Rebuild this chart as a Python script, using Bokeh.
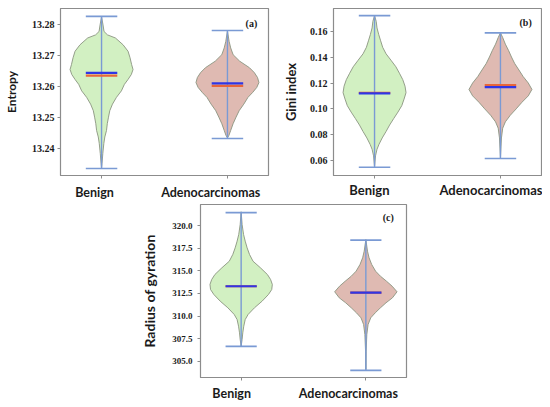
from bokeh.plotting import figure
from bokeh.layouts import row, column
from bokeh.models import Range1d, FixedTicker, Label
from bokeh.embed import file_html
from bokeh.resources import INLINE
import numpy as np

categories = ["Benign", "Adenocarcinomas"]

# ---------------- panel (a): Entropy ----------------
a_ticks = [13.24, 13.25, 13.26, 13.27, 13.28]
a_tick_labels = ["13.24", "13.25", "13.26", "13.27", "13.28"]
a_benign_min, a_benign_max = 13.2336, 13.2828
a_benign_mean, a_benign_median = 13.2645, 13.2636
a_benign_levels = [13.2827, 13.2800, 13.2779, 13.2768, 13.2758, 13.2736, 13.2715, 13.2694,
                   13.2672, 13.2656, 13.2640, 13.2624, 13.2608, 13.2587, 13.2566, 13.2544,
                   13.2523, 13.2502, 13.2481, 13.2459, 13.2438, 13.2417, 13.2385, 13.2353, 13.2337]
a_benign_density = [0, 1.5, 2.5, 6, 14, 21.7, 26.7, 28.7, 30.3, 31.7, 30, 26.7, 23, 20, 15,
                    11, 8.3, 7, 5.8, 5, 3.3, 2.3, 1.3, 0.5, 0]
a_adeno_min, a_adeno_max = 13.2433, 13.2782
a_adeno_mean, a_adeno_median = 13.2611, 13.2603
a_adeno_levels = [13.2781, 13.2747, 13.2726, 13.2704, 13.2683, 13.2662, 13.2646, 13.2630,
                  13.2614, 13.2598, 13.2582, 13.2566, 13.2544, 13.2523, 13.2502, 13.2481,
                  13.2459, 13.2443, 13.2435]
a_adeno_density = [0, 1.7, 3.3, 5.8, 12.5, 22.5, 27.5, 30.8, 32.2, 30, 25.8, 21, 16.7, 12,
                   8.8, 5.8, 3.3, 1.5, 0]

# ---------------- panel (b): Gini index ----------------
b_ticks = [0.06, 0.08, 0.10, 0.12, 0.14, 0.16]
b_tick_labels = ["0.06", "0.08", "0.10", "0.12", "0.14", "0.16"]
b_benign_min, b_benign_max = 0.0547, 0.1726
b_benign_mean, b_benign_median = 0.1121, 0.1125
b_benign_levels = [0.1726, 0.1681, 0.1630, 0.1580, 0.1530, 0.1479, 0.1429, 0.1379, 0.1328,
                   0.1278, 0.1228, 0.1177, 0.1127, 0.1077, 0.1026, 0.0976, 0.0926, 0.0875,
                   0.0825, 0.0775, 0.0725, 0.0687, 0.0636, 0.0549]
b_benign_density = [0, 1.7, 2.5, 4.2, 6.2, 8.3, 11.7, 16.7, 21.7, 25.3, 28.7, 31, 32, 30,
                    27.7, 23.8, 19.5, 15.3, 11.7, 7.8, 4.5, 2.5, 1, 0]
b_adeno_min, b_adeno_max = 0.0615, 0.1592
b_adeno_mean, b_adeno_median = 0.1170, 0.1185
b_adeno_levels = [0.1592, 0.1555, 0.1504, 0.1454, 0.1404, 0.1353, 0.1303, 0.1253, 0.1202,
                  0.1152, 0.1102, 0.1051, 0.1001, 0.0951, 0.0900, 0.0851, 0.0775, 0.0617]
b_adeno_density = [0, 2.3, 5, 8.3, 11.2, 14.5, 18.8, 23, 28.3, 32, 28.3, 21.7, 16, 10, 5,
                   2.3, 1, 0]

# ---------------- panel (c): Radius of gyration ----------------
c_ticks = [305.0, 307.5, 310.0, 312.5, 315.0, 317.5, 320.0]
c_tick_labels = ["305.0", "307.5", "310.0", "312.5", "315.0", "317.5", "320.0"]
c_benign_min, c_benign_max = 306.65, 321.45
c_benign_mean, c_benign_median = 313.3, 313.3
c_benign_levels = [321.54, 320.13, 319.03, 318.29, 317.55, 316.81, 316.07, 315.34, 314.60,
                   314.05, 313.50, 312.94, 312.39, 311.65, 310.92, 310.18, 309.62, 308.88,
                   308.15, 307.41, 306.67]
c_benign_density = [0, 1, 2.5, 4.2, 6.2, 8.7, 12.3, 20, 27.2, 30.5, 32.3, 31.7, 28.3, 21.7,
                    13.8, 7.2, 4.2, 2.7, 1.7, 1, 0]
c_adeno_min, c_adeno_max = 304.0, 318.4
c_adeno_mean, c_adeno_median = 312.6, 312.6
c_adeno_levels = [318.47, 317.18, 316.45, 315.71, 314.97, 314.41, 313.86, 313.31, 312.69,
                  312.02, 311.47, 310.92, 310.37, 309.81, 309.07, 307.96, 306.12, 304.09]
c_adeno_density = [0, 1.7, 3.3, 6, 10, 15, 21.2, 27, 32, 27.3, 20.7, 15, 9.7, 5, 2.3, 1,
                   0.3, 0]

# ---------------- styling ----------------
FILLS = ["#d2f0c2", "#dfbab2"]
EDGE = "#8a9480"
WHISKER = "#7a9ad4"
MEAN_C = "#2f36e6"
MEDIAN_C = "#e8663a"
AXIS_C = "#8c8c8c"
LABEL_FONT = "Lato"
TICK_FONT = "Liberation Serif"
HALF = 0.25
CAP = 0.125


def add_violin(p, pos, levels, density, vmin, vmax, mean, median, fill):
    lv = np.array(levels, dtype=float)
    d = np.array(density, dtype=float)
    w = d / d.max() * HALF
    xs = np.concatenate([pos + w, (pos - w)[::-1]])
    ys = np.concatenate([lv, lv[::-1]])
    p.patch(xs, ys, fill_color=fill, fill_alpha=1.0, line_color=EDGE, line_width=0.9)
    p.segment(x0=[pos], y0=[vmin], x1=[pos], y1=[vmax], line_color=WHISKER, line_width=1.4)
    p.segment(x0=[pos - CAP, pos - CAP], y0=[vmin, vmax], x1=[pos + CAP, pos + CAP],
              y1=[vmin, vmax], line_color=WHISKER, line_width=1.6)
    for val, col in [(median, MEDIAN_C), (mean, MEAN_C)]:
        p.segment(x0=[pos - CAP], y0=[val], x1=[pos + CAP], y1=[val], line_color=col,
                  line_width=2.2)


def make_panel(width, height, bl, br, bt, bb, yr, ticks, tick_labels, tick_font_size,
               tick_standoff, ylabel, ylabel_size, ylab_standoff, cat_shift, cat_size,
               cat_standoff, letter, lx, ly, violins):
    p = figure(width=width, height=height, output_backend="svg", toolbar_location=None,
               x_range=Range1d(-0.326, 1.326), y_range=Range1d(*yr),
               min_border_left=bl, min_border_right=br, min_border_top=bt, min_border_bottom=bb)
    p.background_fill_color = "white"
    p.border_fill_color = "white"
    p.outline_line_color = AXIS_C
    p.outline_line_width = 1.2
    p.grid.visible = False

    # category names sit slightly left of the tick marks (as in the source figure);
    # tick marks themselves are drawn as minor ticks at the category positions
    positions = list(range(len(categories)))
    label_pos = [i + s for i, s in zip(positions, cat_shift)]
    p.xaxis.ticker = FixedTicker(ticks=label_pos, minor_ticks=positions)
    p.xaxis.major_label_overrides = {lp: name for lp, name in zip(label_pos, categories)}
    p.xaxis.major_label_text_font = LABEL_FONT
    p.xaxis.major_label_text_font_style = "bold"
    p.xaxis.major_label_text_font_size = f"{cat_size}px"
    p.xaxis.major_label_text_color = "#1a1a1a"
    p.xaxis.major_label_standoff = cat_standoff
    p.xaxis.major_tick_line_color = None
    p.xaxis.major_tick_in = 0
    p.xaxis.major_tick_out = 3
    p.xaxis.minor_tick_line_color = AXIS_C
    p.xaxis.minor_tick_in = 0
    p.xaxis.minor_tick_out = 3
    p.xaxis.axis_line_color = AXIS_C

    p.yaxis.ticker = FixedTicker(ticks=ticks)
    p.yaxis.major_label_overrides = {t: l for t, l in zip(ticks, tick_labels)}
    p.yaxis.major_label_text_font = TICK_FONT
    p.yaxis.major_label_text_font_style = "bold"
    p.yaxis.major_label_text_font_size = f"{tick_font_size}px"
    p.yaxis.major_label_text_color = "#1a1a1a"
    p.yaxis.major_label_standoff = tick_standoff
    p.yaxis.minor_tick_line_color = None
    p.yaxis.major_tick_in = 0
    p.yaxis.major_tick_out = 3
    p.yaxis.major_tick_line_color = AXIS_C
    p.yaxis.axis_line_color = AXIS_C
    p.yaxis.axis_label = ylabel
    p.yaxis.axis_label_text_font = LABEL_FONT
    p.yaxis.axis_label_text_font_style = "bold"
    p.yaxis.axis_label_text_font_size = f"{ylabel_size}px"
    p.yaxis.axis_label_text_color = "#1a1a1a"
    p.yaxis.axis_label_standoff = ylab_standoff

    for i, v in enumerate(violins):
        add_violin(p, i, *v, fill=FILLS[i])

    p.add_layout(Label(x=lx, y=ly, text=letter, text_font=TICK_FONT, text_font_style="bold",
                       text_font_size="10px", text_align="center", text_baseline="middle",
                       text_color="#1a1a1a"))
    return p


pa = make_panel(279, 202, 56, 11, 8, 25, (13.23134, 13.28533), a_ticks, a_tick_labels, 10, 3,
                "Entropy", 12, 10, (-0.056, -0.133), 12.5, 6, "(a)", 1.19, 13.2804,
                [(a_benign_levels, a_benign_density, a_benign_min, a_benign_max, a_benign_mean, a_benign_median),
                 (a_adeno_levels, a_adeno_density, a_adeno_min, a_adeno_max, a_adeno_mean, a_adeno_median)])

pb = make_panel(263, 202, 52, 1, 8, 22, (0.04830, 0.17811), b_ticks, b_tick_labels, 10, 3,
                "Gini index", 13, 8, (-0.041, -0.062), 13, 3, "(b)", 1.20, 0.1675,
                [(b_benign_levels, b_benign_density, b_benign_min, b_benign_max, b_benign_mean, b_benign_median),
                 (b_adeno_levels, b_adeno_density, b_adeno_min, b_adeno_max, b_adeno_mean, b_adeno_median)])

pc = make_panel(406 - 138 + 5, 201, 57, 5, 2, 26, (303.208, 322.345), c_ticks, c_tick_labels, 9, 5,
                "Radius of gyration", 14, 11, (-0.076, -0.140), 12.5, 5, "(c)", 1.18, 320.9,
                [(c_benign_levels, c_benign_density, c_benign_min, c_benign_max, c_benign_mean, c_benign_median),
                 (c_adeno_levels, c_adeno_density, c_adeno_min, c_adeno_max, c_adeno_mean, c_adeno_median)])

# bottom panel shifted right, centred under the top row as in the source figure
pc.margin = (0, 0, 0, 138)

layout = column(row(pa, pb), pc)

open("out.html", "w").write(file_html(layout, INLINE))
